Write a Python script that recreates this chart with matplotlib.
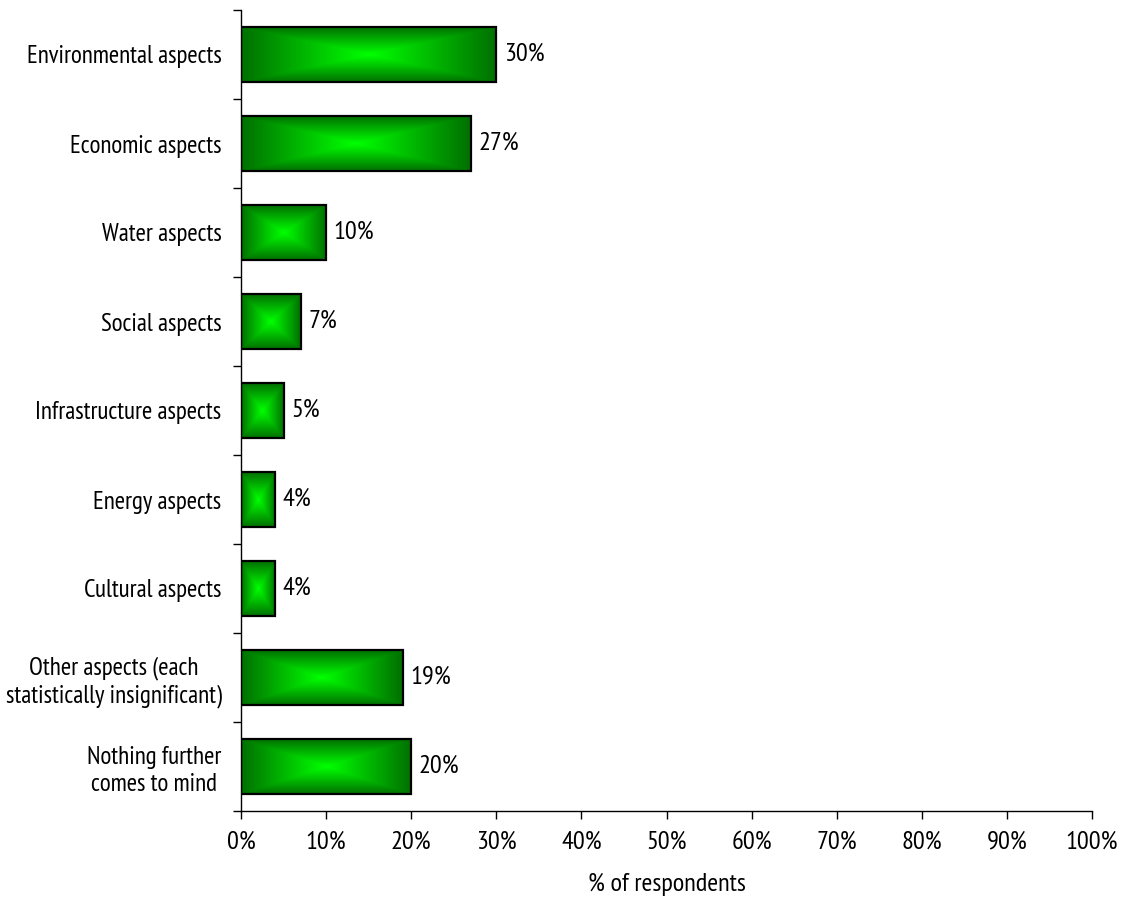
import numpy as np
import matplotlib.pyplot as plt
from matplotlib import font_manager as fm
from matplotlib.patches import Rectangle
from matplotlib.colors import LinearSegmentedColormap

categories = ['Environmental aspects', 'Economic aspects', 'Water aspects',
              'Social aspects', 'Infrastructure aspects', 'Energy aspects',
              'Cultural aspects',
              'Other aspects (each\nstatistically insignificant)',
              'Nothing further\ncomes to mind']
values = [30, 27, 10, 7, 5, 4, 4, 19, 20]
value_labels = ['30%', '27%', '10%', '7%', '5%', '4%', '4%', '19%', '20%']
x_ticks = [0, 10, 20, 30, 40, 50, 60, 70, 80, 90, 100]

# narrow sans font, like Arial Narrow in the original
installed = {f.name for f in fm.fontManager.ttflist}
wanted = ['Arial Narrow', 'Liberation Sans Narrow', 'PT Sans Narrow',
          'Archivo Narrow', 'Roboto Condensed', 'Open Sans Condensed']
family = [n for n in wanted if n in installed][:1] + ['DejaVu Sans']
plt.rcParams['font.family'] = family
fs = 19

fig = plt.figure(figsize=(11.28, 9.11), dpi=100)
ax = fig.add_axes([241 / 1128, 1 - 811 / 911, (1092 - 241) / 1128, (811 - 10) / 911])

# rectangular gradient: bright green centre, dark green edges
cmap = LinearSegmentedColormap.from_list('g', [(0, 1.0, 0), (0, 0.44, 0)])
u = np.linspace(-1, 1, 200)
U, V = np.meshgrid(u, u)
grad = np.maximum(np.abs(U), np.abs(V))

h = 0.61
for i, v in enumerate(values):
    rect = Rectangle((0, i - h / 2), v, h, facecolor='none', edgecolor='black',
                     linewidth=1.6, zorder=3)
    ax.add_patch(rect)
    im = ax.imshow(grad, cmap=cmap, extent=(0, v, i + h / 2, i - h / 2),
                   aspect='auto', interpolation='bilinear', zorder=2)
    im.set_clip_path(rect)
    ax.text(v + 0.9, i, value_labels[i], va='center', ha='left', fontsize=fs)

ax.set_xlim(0, 100)
ax.set_ylim(len(categories) - 0.5, -0.5)
ax.set_aspect('auto')

ax.set_xticks(x_ticks)
ax.set_xticklabels([f'{t}%' for t in x_ticks], fontsize=fs)
ax.set_yticks(range(len(categories)))
ax.set_yticklabels(categories, fontsize=18, ha='right', multialignment='center')
ax.set_yticks(np.arange(-0.5, len(categories), 1), minor=True)
ax.tick_params(axis='y', which='major', length=0, pad=14)
ax.tick_params(axis='y', which='minor', length=6, direction='out', width=1)
ax.tick_params(axis='x', length=6, direction='out', width=1, pad=8)
ax.set_xlabel('% of respondents', fontsize=fs, labelpad=14)

for s in ['top', 'right']:
    ax.spines[s].set_visible(False)
for s in ['left', 'bottom']:
    ax.spines[s].set_linewidth(1)

plt.savefig('out.png', dpi=100)
